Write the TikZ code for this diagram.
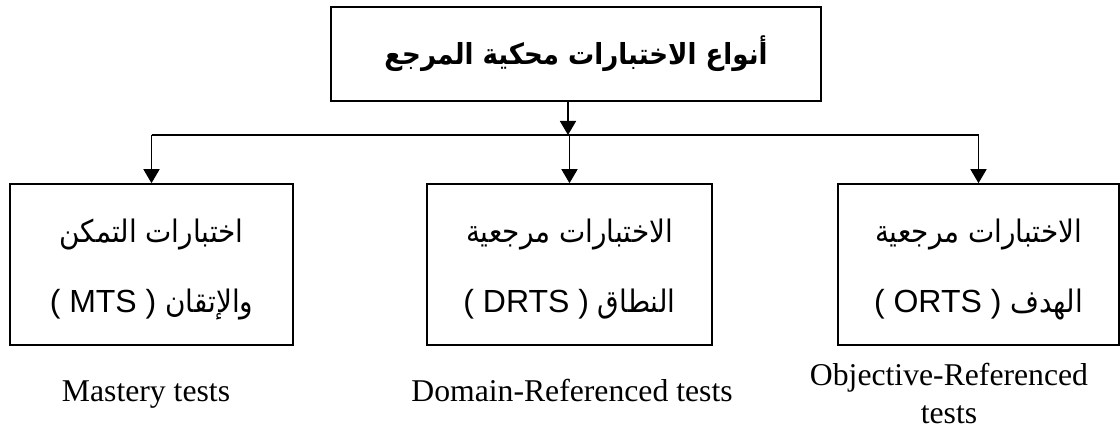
\documentclass[tikz,border=0pt]{standalone}
\usepackage{fontspec}
\setmainfont{Liberation Serif}
\newfontfamily\arabicfont[Script=Arabic]{DejaVu Sans Condensed}
\newfontfamily\latinsans{Liberation Sans}
\TeXXeTstate=1
\usetikzlibrary{arrows.meta}

\tikzset{
  box/.style={draw, line width=1.6pt, inner sep=0pt, align=center,
    font=\arabicfont\fontsize{31}{70}\selectfont},
  link/.style={line width=1.6pt},
  arrowlink/.style={link, -{Triangle[width=16pt,length=14pt]}},
  caption/.style={align=center, inner sep=0pt,
    font=\fontsize{31.7}{38}\selectfont}
}
% abbreviation in brackets, set in a sans face
\newcommand\abbrtext[1]{{\latinsans\fontsize{32}{70}\selectfont #1}}
% invisible strut that lowers the two-line box text a little
\newcommand\lowerstrut{\rule{0pt}{33pt}}

\begin{document}
\begin{tikzpicture}[x=1pt,y=-1pt]
\useasboundingbox (0,0) rectangle (1120,430);

% main heading
\node[box, minimum width=490pt, minimum height=94pt,
  font=\arabicfont\bfseries\fontsize{29}{36}\selectfont]
  (top) at (576,54) {\beginR أنواع الاختبارات محكية المرجع\endR};

% three kinds of tests
\node[box, minimum width=283pt, minimum height=161pt] (mts) at (151.5,264.5)
  {\lowerstrut\beginR اختبارات التمكن\endR\\
   \beginR والإتقان \beginL\abbrtext{( MTS )}\endL\endR};
\node[box, minimum width=285pt, minimum height=161pt] (drts) at (569.5,264.5)
  {\lowerstrut\beginR الاختبارات مرجعية\endR\\
   \beginR النطاق \beginL\abbrtext{( DRTS )}\endL\endR};
\node[box, minimum width=281pt, minimum height=161pt] (orts) at (978.5,264.5)
  {\lowerstrut\beginR الاختبارات مرجعية\endR\\
   \beginR الهدف \beginL\abbrtext{( ORTS )}\endL\endR};

% English names
\node[caption, anchor=base] (cap1) at (146,402) {Mastery tests};
\node[caption, anchor=base] (cap2) at (572,402) {Domain-Referenced tests};
\node[caption] (cap3) at (949,393) {Objective-Referenced\\tests};

% connectors
\coordinate (hub) at (568,135);
\draw[arrowlink] (top.south -| hub) -- (hub);
\draw[link] (mts.north |- hub) -- (orts.north |- hub);
\draw[arrowlink] (mts.north |- hub) -- (mts.north);
\draw[arrowlink] (drts.north |- hub) -- (drts.north);
\draw[arrowlink] (orts.north |- hub) -- (orts.north);
\end{tikzpicture}
\end{document}
